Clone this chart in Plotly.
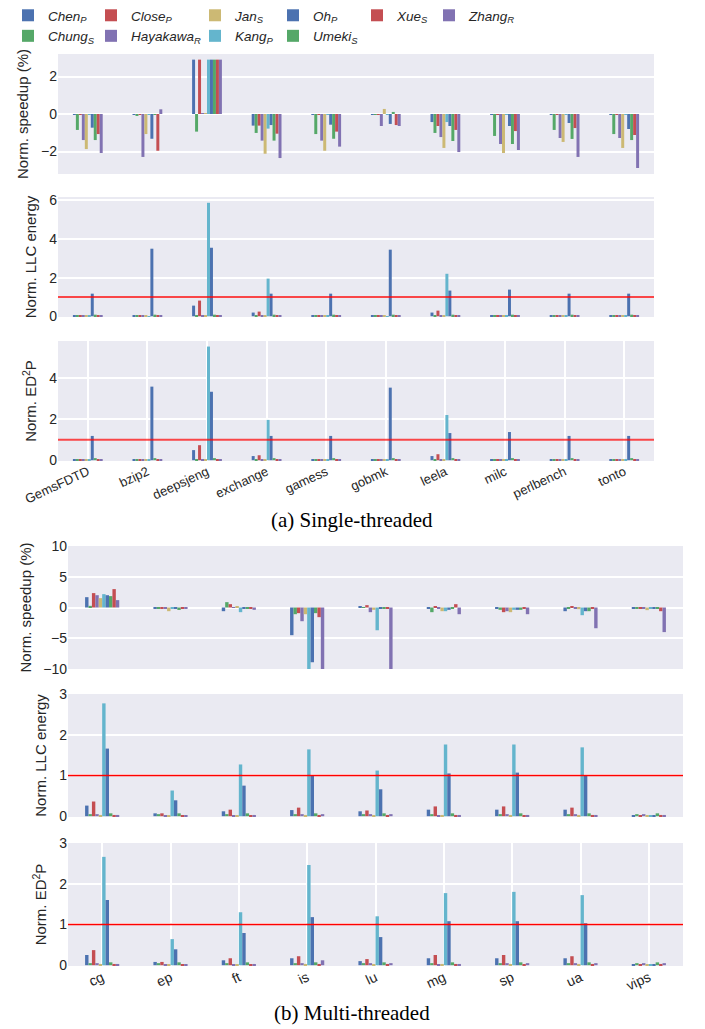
import plotly.graph_objects as go

methods = ["Chen", "Chung", "Close", "Hayakawa", "Jan", "Kang", "Oh", "Umeki", "Xue", "Zhang"]
subs = ["P", "S", "P", "R", "S", "P", "P", "S", "S", "R"]
colors = ["#4C72B0", "#55A868", "#C44E52", "#8172B2", "#CCB974",
          "#64B5CD", "#4C72B0", "#55A868", "#C44E52", "#8172B2"]
legend_col = [1, 1, 2, 2, 3, 3, 4, 4, 5, 6]

single_bench = ["GemsFDTD", "bzip2", "deepsjeng", "exchange", "gamess",
                "gobmk", "leela", "milc", "perlbench", "tonto"]
multi_bench = ["cg", "ep", "ft", "is", "lu", "mg", "sp", "ua", "vips"]

# rows = benchmarks, columns = methods (order as in `methods`)
st_speedup = [
    [-0.02, -0.85, -0.02, -1.39, -1.87, -0.02, -0.73, -1.39, -1.07, -2.08],
    [-0.03, -0.08, -0.03, -2.29, -1.07, -0.02, -1.32, -0.02, -1.96, 0.25],
    [2.9, -0.94, 2.9, 0.02, 0.02, 2.9, 2.9, 2.9, 2.9, 2.9],
    [-0.62, -1.01, -0.62, -1.42, -2.12, -0.78, -0.59, -1.42, -1.05, -2.35],
    [-0.03, -1.07, -0.03, -1.42, -1.96, -0.02, -0.57, -1.32, -0.94, -1.74],
    [-0.02, -0.03, -0.03, -0.64, 0.27, -0.02, -0.53, 0.11, -0.59, -0.64],
    [-0.43, -1.01, -0.64, -1.23, -1.81, -0.43, -0.64, -1.44, -0.85, -2.03],
    [-0.03, -1.17, -0.03, -1.60, -2.08, -0.02, -0.64, -1.60, -0.91, -1.92],
    [-0.03, -0.85, -0.03, -1.28, -1.49, -0.02, -0.48, -1.33, -0.75, -2.29],
    [-0.03, -1.07, -0.03, -1.28, -1.81, -0.02, -0.80, -1.39, -1.12, -2.88],
]
st_llc = [
    [0.02, 0.05, 0.02, 0.05, 0.02, 0.02, 1.17, 0.08, 0.05, 0.05],
    [0.02, 0.05, 0.02, 0.05, 0.05, 0.01, 3.50, 0.08, 0.05, 0.05],
    [0.55, 0.05, 0.81, 0.05, 0.02, 5.88, 3.55, 0.08, 0.05, 0.05],
    [0.19, 0.05, 0.24, 0.05, 0.02, 1.95, 1.17, 0.08, 0.05, 0.05],
    [0.02, 0.05, 0.02, 0.05, 0.02, 0.02, 1.17, 0.08, 0.05, 0.05],
    [0.02, 0.05, 0.02, 0.05, 0.05, 0.01, 3.45, 0.08, 0.05, 0.05],
    [0.19, 0.05, 0.29, 0.05, 0.02, 2.20, 1.33, 0.08, 0.05, 0.05],
    [0.02, 0.05, 0.02, 0.05, 0.02, 0.02, 1.38, 0.08, 0.05, 0.05],
    [0.02, 0.05, 0.02, 0.05, 0.02, 0.02, 1.17, 0.08, 0.05, 0.05],
    [0.02, 0.05, 0.02, 0.05, 0.02, 0.02, 1.17, 0.08, 0.05, 0.05],
]
st_ed2p = [
    [0.02, 0.05, 0.02, 0.05, 0.02, 0.02, 1.18, 0.10, 0.03, 0.05],
    [0.02, 0.05, 0.02, 0.05, 0.05, 0.01, 3.58, 0.10, 0.03, 0.05],
    [0.49, 0.05, 0.73, 0.05, 0.02, 5.53, 3.33, 0.10, 0.03, 0.05],
    [0.20, 0.05, 0.24, 0.05, 0.02, 1.96, 1.18, 0.10, 0.03, 0.05],
    [0.02, 0.05, 0.02, 0.05, 0.02, 0.02, 1.18, 0.10, 0.03, 0.05],
    [0.02, 0.05, 0.02, 0.05, 0.05, 0.01, 3.53, 0.10, 0.03, 0.05],
    [0.20, 0.05, 0.29, 0.05, 0.02, 2.20, 1.32, 0.10, 0.03, 0.05],
    [0.02, 0.05, 0.02, 0.05, 0.02, 0.02, 1.37, 0.10, 0.03, 0.05],
    [0.02, 0.05, 0.02, 0.05, 0.02, 0.02, 1.18, 0.10, 0.03, 0.05],
    [0.02, 0.05, 0.02, 0.05, 0.02, 0.02, 1.18, 0.10, 0.03, 0.05],
]
mt_speedup = [
    [1.68, 0.27, 2.34, 2.00, 1.52, 2.17, 2.00, 1.85, 2.99, 1.20],
    [-0.10, -0.10, -0.10, -0.10, -0.60, -0.10, -0.10, -0.40, -0.10, -0.10],
    [-0.60, 0.87, 0.54, 0.05, 0.22, -0.76, -0.22, -0.16, -0.16, -0.38],
    [-4.50, -1.09, -0.92, -2.23, -1.09, -10.0, -8.90, -0.92, -1.57, -10.0],
    [0.20, 0.05, 0.38, -0.76, -0.38, -3.70, -0.16, -0.16, -0.22, -10.0],
    [-0.10, -0.76, 0.22, -0.10, -0.60, -0.60, -0.38, -0.22, 0.54, -1.09],
    [-0.10, -0.38, -0.76, -0.60, -0.76, -0.38, -0.38, -0.38, -0.16, -1.09],
    [-0.60, -0.10, 0.22, -0.10, -0.27, -1.25, -0.60, -0.60, -0.22, -3.37],
    [-0.10, -0.10, -0.10, -0.10, -0.43, -0.10, -0.10, -0.22, -0.60, -4.00],
]
mt_llc = [
    [0.26, 0.05, 0.36, 0.05, 0.03, 2.77, 1.66, 0.07, 0.03, 0.03],
    [0.07, 0.05, 0.07, 0.01, 0.01, 0.63, 0.39, 0.07, 0.01, 0.01],
    [0.12, 0.05, 0.16, 0.01, 0.01, 1.27, 0.75, 0.07, 0.01, 0.03],
    [0.15, 0.05, 0.21, 0.05, 0.03, 1.64, 1.00, 0.07, 0.03, 0.05],
    [0.12, 0.05, 0.14, 0.05, 0.02, 1.12, 0.66, 0.07, 0.03, 0.05],
    [0.16, 0.05, 0.24, 0.01, 0.03, 1.76, 1.05, 0.07, 0.03, 0.03],
    [0.16, 0.05, 0.24, 0.05, 0.03, 1.76, 1.07, 0.07, 0.01, 0.03],
    [0.16, 0.05, 0.21, 0.05, 0.03, 1.69, 1.00, 0.07, 0.03, 0.03],
    [0.01, 0.05, 0.01, 0.05, 0.01, 0.01, 0.01, 0.07, 0.03, 0.03],
]
mt_ed2p = [
    [0.25, 0.05, 0.37, 0.05, 0.03, 2.66, 1.60, 0.07, 0.03, 0.03],
    [0.08, 0.05, 0.08, 0.01, 0.01, 0.64, 0.39, 0.07, 0.01, 0.01],
    [0.12, 0.05, 0.17, 0.01, 0.01, 1.30, 0.79, 0.07, 0.01, 0.03],
    [0.17, 0.05, 0.22, 0.05, 0.03, 2.46, 1.18, 0.07, 0.03, 0.12],
    [0.10, 0.05, 0.15, 0.05, 0.01, 1.20, 0.69, 0.07, 0.03, 0.05],
    [0.17, 0.05, 0.25, 0.01, 0.03, 1.77, 1.08, 0.07, 0.03, 0.03],
    [0.17, 0.05, 0.25, 0.05, 0.03, 1.80, 1.08, 0.07, 0.01, 0.05],
    [0.17, 0.05, 0.22, 0.05, 0.03, 1.72, 1.03, 0.07, 0.03, 0.05],
    [0.01, 0.05, 0.01, 0.05, 0.01, 0.01, 0.01, 0.07, 0.03, 0.05],
]

# page body has an 8px margin; positions below are given in screen pixels
OFF = 8
W, H = 705 - OFF, 1029 - OFF
FONT = "Liberation Sans, Arial, sans-serif"
TXT = "#262626"


def px_x(a, b):
    return [(a - OFF) / W, (b - OFF) / W]


def px_y(top, bottom):
    return [1 - (bottom - OFF) / H, 1 - (top - OFF) / H]


def fx(x):
    return (x - OFF) / W


def fy(y):
    return 1 - (y - OFF) / H


panels = [
    # data, benches, x-domain px, y-domain px, y-range, dtick, ytitle, show xticks, ref line
    (st_speedup, single_bench, (58, 654), (54, 174), [-3.2, 3.2], 2, "Norm. speedup (%)", False, None),
    (st_llc, single_bench, (58, 654), (197, 317), [-0.04, 6.18], 2, "Norm. LLC energy", False, "rgba(255,0,0,0.7)"),
    (st_ed2p, single_bench, (58, 654), (341, 461), [-0.04, 5.8], 2, "Norm. ED<sup>2</sup>P", True, "rgba(255,0,0,0.7)"),
    (mt_speedup, multi_bench, (68, 683), (546, 669), [-10, 10], 5, "Norm. speedup (%)", False, None),
    (mt_llc, multi_bench, (68, 683), (694, 817), [-0.02, 3.0], 1, "Norm. LLC energy", False, "red"),
    (mt_ed2p, multi_bench, (68, 683), (843, 966), [-0.02, 3.0], 1, "Norm. ED<sup>2</sup>P", True, "red"),
]

fig = go.Figure()
layout = dict(
    width=W, height=H,
    margin=dict(l=0, r=0, t=0, b=0, autoexpand=False),
    paper_bgcolor="white", plot_bgcolor="#EAEAF2",
    barmode="group", bargap=0.5, bargroupgap=0,
    font=dict(family=FONT, color=TXT, size=14),
    shapes=[], annotations=[],
)

for p, (data, benches, xd, yd, yr, dt, ytitle, showx, refcol) in enumerate(panels):
    n = "" if p == 0 else str(p + 1)
    xa, ya = "x" + n, "y" + n
    for m in range(len(methods)):
        vals = [row[m] for row in data]
        lc = legend_col[m]
        fig.add_trace(go.Bar(
            x=benches, y=vals,
            name="<i>%s<sub>%s</sub></i>" % (methods[m], subs[m]),
            marker=dict(color=colors[m], line=dict(width=0)),
            xaxis=xa, yaxis=ya,
            showlegend=(p == 0),
            legend="legend" if lc == 1 else "legend%d" % lc,
        ))
    layout["xaxis" + n] = dict(
        domain=px_x(*xd), anchor=ya, type="category",
        range=[-0.5, len(benches) - 0.5],
        showgrid=showx, gridcolor="white", gridwidth=1.5,
        showticklabels=showx, tickangle=-25, ticks="",
        tickfont=dict(size=14 if p == 5 else 13, color=TXT),
        showline=False, zeroline=False,
    )
    layout["yaxis" + n] = dict(
        domain=px_y(*yd), anchor=xa, range=yr, dtick=dt, tick0=0,
        showgrid=True, gridcolor="white", gridwidth=1.5,
        zeroline=False, ticks="", tickfont=dict(size=14, color=TXT),
        title=dict(text=ytitle, font=dict(size=15, color=TXT), standoff=8),
    )
    if refcol:
        layout["shapes"].append(dict(
            type="line", xref=xa + " domain", yref=ya, x0=0, x1=1, y0=1, y1=1,
            line=dict(color=refcol, width=2 if p < 3 else 1.5), layer="above",
        ))

# one small vertical legend per legend column (matplotlib column-major layout)
legend_x_px = [5, 91, 195, 273, 357, 429]
for i, lx in enumerate(legend_x_px):
    key = "legend" if i == 0 else "legend%d" % (i + 1)
    layout[key] = dict(
        orientation="v", x=max(fx(lx), 0), y=fy(0), xanchor="left", yanchor="top",
        font=dict(size=13.5, color=TXT), bgcolor="rgba(0,0,0,0)",
        tracegroupgap=0, itemclick=False,
    )

layout["annotations"] += [
    dict(text="(a) Single-threaded", xref="paper", yref="paper",
         x=fx(352), y=fy(520), xanchor="center", yanchor="middle", showarrow=False,
         font=dict(family="Liberation Serif, Times New Roman, serif", size=21, color="black")),
    dict(text="(b) Multi-threaded", xref="paper", yref="paper",
         x=fx(352), y=fy(1013), xanchor="center", yanchor="middle", showarrow=False,
         font=dict(family="Liberation Serif, Times New Roman, serif", size=21, color="black")),
]

fig.update_layout(**layout)
fig.write_html("out.html")
